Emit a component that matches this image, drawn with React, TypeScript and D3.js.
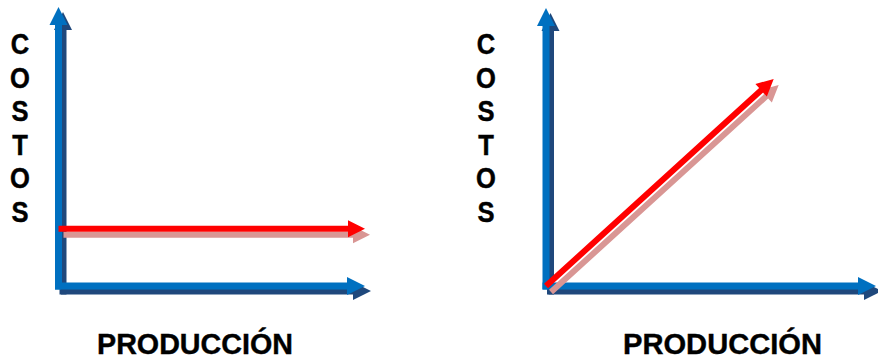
import * as d3 from 'd3'

// textos
const yLetters = ['C', 'O', 'S', 'T', 'O', 'S']
const xLabel = 'PRODUCCIÓN'

// costos fijos: no cambian con la producción
const fixedProd = [0, 100]
const fixedCost = [20.5, 20.5]

// costos variables: crecen con la producción
const varProd = [0, 69]
const varCost = [0, 74.5]

const width = 878
const height = 360

const BLUE = '#0070C0'
const BLUE_SHADOW = '#1F487C'
const RED = '#FF0000'
const RED_SHADOW = '#D99694'

const font = 'Arial, "Liberation Sans", sans-serif'

// flecha como polígono: cuerpo + punta triangular
function arrowPath(x0: number, y0: number, x1: number, y1: number, w: number, hl: number, hw: number) {
	const dx = x1 - x0
	const dy = y1 - y0
	const len = Math.hypot(dx, dy)
	const ux = dx / len
	const uy = dy / len
	const nx = -uy
	const ny = ux
	const bx = x1 - ux * hl
	const by = y1 - uy * hl
	const p = d3.path()
	p.moveTo(x0 + (nx * w) / 2, y0 + (ny * w) / 2)
	p.lineTo(bx + (nx * w) / 2, by + (ny * w) / 2)
	p.lineTo(bx + nx * hw, by + ny * hw)
	p.lineTo(x1, y1)
	p.lineTo(bx - nx * hw, by - ny * hw)
	p.lineTo(bx - (nx * w) / 2, by - (ny * w) / 2)
	p.lineTo(x0 - (nx * w) / 2, y0 - (ny * w) / 2)
	p.closePath()
	return p.toString()
}

type ArrowProps = {
	from: [number, number]
	to: [number, number]
	color: string
	shadow: string
	w: number
	hl: number
	hw: number
	off: [number, number]
}

const Arrow = ({ from, to, color, shadow, w, hl, hw, off }: ArrowProps) => {
	const d = arrowPath(from[0], from[1], to[0], to[1], w, hl, hw)
	return (
		<g>
			<path d={d} fill={shadow} transform={`translate(${off[0]},${off[1]})`} />
			<path d={d} fill={color} />
		</g>
	)
}

type PanelProps = {
	xRange: [number, number]
	yRange: [number, number]
	prod: number[]
	cost: number[]
	letterX: number
	labelX: number
	labelLen: number
}

const Panel = ({ xRange, yRange, prod, cost, letterX, labelX, labelLen }: PanelProps) => {
	const x = d3.scaleLinear().domain([0, 100]).range(xRange)
	const y = d3.scaleLinear().domain([0, 100]).range(yRange)
	const n = prod.length - 1
	return (
		<g>
			{/* ejes */}
			<Arrow
				from={[x(0), y(0) + 3.5]}
				to={[x(0), y(100)]}
				color={BLUE}
				shadow={BLUE_SHADOW}
				w={7}
				hl={18}
				hw={9}
				off={[4.5, 5]}
			/>
			<Arrow
				from={[x(0) - 3.5, y(0)]}
				to={[x(100), y(0)]}
				color={BLUE}
				shadow={BLUE_SHADOW}
				w={7}
				hl={18}
				hw={9}
				off={[6, 5]}
			/>
			{/* costo */}
			<Arrow
				from={[x(prod[0]), y(cost[0])]}
				to={[x(prod[n]), y(cost[n])]}
				color={RED}
				shadow={RED_SHADOW}
				w={6}
				hl={17}
				hw={8.5}
				off={[5, 6]}
			/>
			{yLetters.map((l, i) => (
				<text
					key={i}
					transform={`translate(${letterX},${54 + i * 33.5}) scale(0.85,1)`}
					textAnchor="middle"
					fontFamily={font}
					fontWeight="bold"
					fontSize={30}
					fill="#000"
					stroke="#000"
					strokeWidth={0.5}
				>
					{l}
				</text>
			))}
			<text
				x={labelX}
				y={354}
				textLength={labelLen}
				lengthAdjust="spacingAndGlyphs"
				fontFamily={font}
				fontWeight="bold"
				fontSize={29}
				fill="#000"
				stroke="#000"
				strokeWidth={0.4}
			>
				{xLabel}
			</text>
		</g>
	)
}

export default function App() {
	return (
		<svg
			width={width}
			height={height}
			viewBox={`0 0 ${width} ${height}`}
			style={{ position: 'absolute', left: 0, top: 0, background: '#fff' }}
		>
			<rect width={width} height={height} fill="#fff" />
			<Panel
				xRange={[58.5, 365]}
				yRange={[286, 7]}
				prod={fixedProd}
				cost={fixedCost}
				letterX={20}
				labelX={97}
				labelLen={196}
			/>
			<Panel
				xRange={[546, 876]}
				yRange={[286, 8]}
				prod={varProd}
				cost={varCost}
				letterX={486}
				labelX={623}
				labelLen={199}
			/>
		</svg>
	)
}
